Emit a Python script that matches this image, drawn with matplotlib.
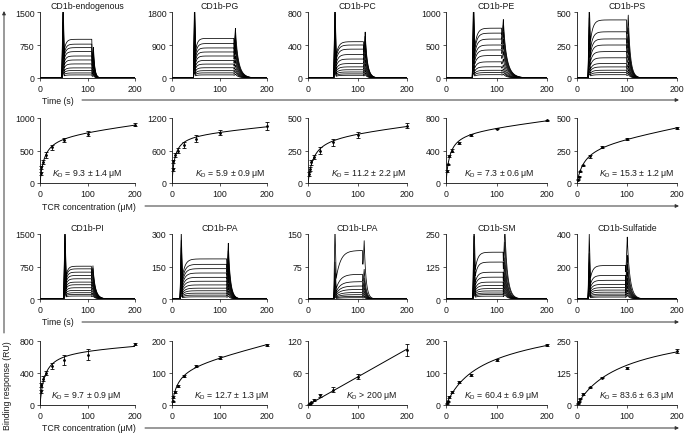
import numpy as np
import matplotlib
matplotlib.use('Agg')
import matplotlib.pyplot as plt

plt.rcParams['font.family'] = ['Liberation Sans', 'DejaVu Sans']
plt.rcParams['mathtext.fontset'] = 'custom'
plt.rcParams['mathtext.rm'] = 'Liberation Sans'
plt.rcParams['mathtext.it'] = 'Liberation Sans:italic'

# ---------------- data ----------------
panel_names = ['CD1b-endogenous', 'CD1b-PG', 'CD1b-PC', 'CD1b-PE', 'CD1b-PS',
               'CD1b-PI', 'CD1b-PA', 'CD1b-LPA', 'CD1b-SM', 'CD1b-Sulfatide']

# sensorgrams (response in RU)
sg_ymax = [1500, 1800, 800, 1000, 500, 1500, 300, 150, 250, 400]
sg_plateaus = [
    [880, 770, 690, 600, 500, 410, 320, 230, 170, 115, 70],
    [1080, 940, 820, 710, 600, 480, 380, 280, 200, 140, 85],
    [440, 400, 350, 285, 230, 175, 135, 100, 73, 50, 33],
    [755, 680, 590, 500, 425, 340, 245, 170, 117, 82, 50],
    [440, 350, 296, 250, 200, 153, 110, 84, 59, 41, 25],
    [757, 696, 620, 543, 467, 390, 329, 260, 199, 145, 107, 69],
    [185, 160, 140, 120, 100, 82, 65, 50, 38, 27, 18, 10],
    [112, 57, 40, 30, 22, 15, 10, 6, 3],
    [180, 142, 103, 84, 65, 52, 40, 31, 23, 17, 11],
    [206, 145, 115, 90, 70, 55, 42, 30, 20, 12],
]
sg_spike_on = [1450, 1680, 800, 940, 400, 1440, 250, 140, 235, 318]
sg_spike_off = [650, 990, 480, 600, 400, 590, 225, 122, 235, 333]
sg_t_on = [46, 45, 52, 52, 22, 50, 17, 52, 53, 22]
sg_t_off = [109, 130, 112, 110, 99, 108, 115, 110, 113, 97]
sg_tau_on = [4, 4, 5, 5, 5, 4, 6, 9, 5, 5]
sg_tau_off = [3, 8, 5, 9, 5, 6, 5, 4, 6, 6]

# equilibrium binding
conc = [1.5625, 3.125, 6.25, 12.5, 25, 50, 100, 200]
bind_resp = [
    [150, 240, 330, 430, 550, 655, 760, 900],
    [250, 400, 520, 600, 700, 820, 930, 1050],
    [70, 110, 160, 200, 250, 312, 370, 440],
    [150, 230, 330, 400, 490, 590, 670, 770],
    [25, 50, 90, 135, 204, 276, 339, 421],
    [170, 250, 330, 400, 490, 560, 630, 760],
    [12, 25, 40, 60, 91, 122, 148, 187],
    [1, 2, 5, 9, 18, 29, 53, 103],
    [5, 12, 25, 42, 72, 95, 140, 188],
    [6, 12, 25, 44, 69, 107, 145, 211],
]
bind_err = [
    [20, 25, 30, 40, 40, 30, 35, 30],
    [30, 30, 40, 50, 60, 60, 50, 70],
    [15, 15, 20, 15, 30, 25, 20, 20],
    [10, 10, 15, 15, 15, 10, 10, 10],
    [3, 4, 5, 6, 8, 8, 8, 8],
    [20, 30, 30, 30, 40, 65, 70, 10],
    [2, 3, 3, 4, 3, 4, 4, 3],
    [1, 1, 1, 2, 3, 4, 5, 12],
    [1, 2, 2, 3, 3, 3, 3, 3],
    [1, 2, 2, 3, 3, 3, 3, 8],
]
bind_ymax = [1000, 1200, 500, 800, 500, 800, 200, 120, 200, 250]
kd_value = [9.3, 5.9, 11.2, 7.3, 15.3, 9.7, 12.7, None, 60.4, 83.6]
kd_label = ['= 9.3 ± 1.4 μM', '= 5.9 ± 0.9 μM', '= 11.2 ± 2.2 μM', '= 7.3 ± 0.6 μM',
            '= 15.3 ± 1.2 μM', '= 9.7 ± 0.9 μM', '= 12.7 ± 1.3 μM', '> 200 μM',
            '= 60.4 ± 6.9 μM', '= 83.6 ± 6.3 μM']
kd_xpos = [0.5, 0.61, 0.61, 0.53, 0.6, 0.49, 0.63, 0.64, 0.55, 0.6]

# ---------------- layout ----------------
W, H = 685, 435
FS = 6.3
TXT = '#1a1a1a'
col_left = [40, 172, 308, 446, 577]
col_width = [95, 95, 99, 101, 100]
rows = [(13, 79), (119, 184), (235, 300), (342, 406)]

fig = plt.figure(figsize=(W / 100, H / 100), dpi=100)


def add_ax(col, row):
    top, bot = rows[row]
    return fig.add_axes([col_left[col] / W, 1 - bot / H, col_width[col] / W, (bot - top) / H])


def style(ax, ymax):
    for s in ['top', 'right']:
        ax.spines[s].set_visible(False)
    for s in ['left', 'bottom']:
        ax.spines[s].set_linewidth(0.6)
        ax.spines[s].set_color('#111111')
    ax.set_xlim(0, 200)
    ax.set_ylim(0, ymax)
    ax.set_xticks([0, 100, 200])
    ax.set_yticks([0, ymax / 2, ymax])
    ax.set_yticklabels([f'{v:g}' for v in [0, ymax / 2, ymax]])
    ax.tick_params(labelsize=FS, length=2, width=0.5, pad=2, colors='#111111', labelcolor=TXT)


t = np.arange(0, 200.01, 0.25)


def trace(P, S_on, S_off, t_on, t_off, ta, td):
    r = np.zeros_like(t)
    a = (t >= t_on) & (t < t_off)
    r[a] = P * (1 - np.exp(-(t[a] - t_on) / ta))
    Poff = P * (1 - np.exp(-(t_off - t_on) / ta))
    d = t >= t_off
    r[d] = Poff * np.exp(-(t[d] - t_off) / (0.4 * td))
    r += S_on * np.clip(1 - np.abs(t - (t_on + 2.5)) / 2.5, 0, None)
    tp = t_off + 3.5
    rise = (t >= t_off + 0.5) & (t < tp)
    r[rise] += S_off * (t[rise] - (t_off + 0.5)) / (tp - t_off - 0.5)
    dec = t >= tp
    r[dec] += S_off * np.exp(-(t[dec] - tp) / td)
    return r


for k in range(10):
    col = k % 5
    row_sg = 0 if k < 5 else 2
    ax = add_ax(col, row_sg)
    pls = sg_plateaus[k]
    pmax = max(pls)
    for P in pls:
        f = P / pmax
        ax.plot(t, trace(P, sg_spike_on[k] * f, sg_spike_off[k] * f, sg_t_on[k], sg_t_off[k],
                         sg_tau_on[k], sg_tau_off[k]), color='black', lw=0.55)
    style(ax, sg_ymax[k])
    ax.set_title(panel_names[k], fontsize=FS, color=TXT, pad=3)

    axb = add_ax(col, row_sg + 1)
    x = np.array(conc, float)
    y = np.array(bind_resp[k], float)
    xf = np.linspace(0, 200, 400)
    if kd_value[k] is None:
        A = x[:, None]
        Af = xf[:, None]
    else:
        kd = kd_value[k]
        A = np.column_stack([x / (kd + x), x])
        Af = np.column_stack([xf / (kd + xf), xf])
    coef, *_ = np.linalg.lstsq(A, y, rcond=None)
    axb.plot(xf, Af @ coef, color='black', lw=0.7)
    axb.errorbar(x, y, yerr=bind_err[k], fmt='o', ms=1.0, color='black', ecolor='black',
                 elinewidth=0.6, capsize=1.4, capthick=0.6, clip_on=False)
    style(axb, bind_ymax[k])
    axb.text(kd_xpos[k], 0.15, r'$K_\mathrm{D}$ ' + kd_label[k], transform=axb.transAxes,
             ha='center', va='center', fontsize=FS, color=TXT)


def P(xp, yp):
    return (xp / W, 1 - yp / H)


arrow_kw = dict(arrowstyle='-|>', lw=0.7, color='#333333', mutation_scale=5, shrinkA=0, shrinkB=0)
for yl, txt, xs in [(101, 'Time (s)', 82), (207, 'TCR concentration (μM)', 145),
                    (323, 'Time (s)', 82), (429, 'TCR concentration (μM)', 145)]:
    fig.text(42 / W, 1 - yl / H, txt, fontsize=FS, color=TXT, ha='left', va='center')
    fig.add_artist(matplotlib.patches.FancyArrowPatch(P(xs, yl), P(679, yl), transform=fig.transFigure,
                                                      **arrow_kw))

fig.add_artist(matplotlib.patches.FancyArrowPatch(P(4, 334), P(4, 12), transform=fig.transFigure, **arrow_kw))
fig.text(8 / W, 1 - 386 / H, 'Binding response (RU)', rotation=90, fontsize=FS, color=TXT,
         ha='center', va='center')

fig.savefig('out.png', dpi=100)
